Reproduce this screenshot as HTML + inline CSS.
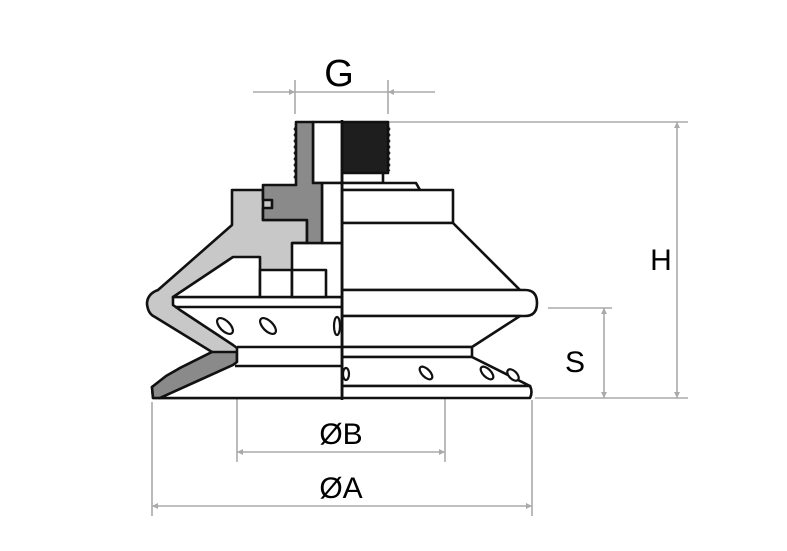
<!DOCTYPE html>
<html><head><style>
html,body{margin:0;padding:0;background:#fff;}
svg{display:block;}
text{font-family:"Liberation Sans",sans-serif;fill:#000;}
</style></head><body>
<svg width="787" height="551" viewBox="0 0 787 551" xmlns="http://www.w3.org/2000/svg">
<defs>
<marker id="a" viewBox="0 0 10 10" refX="10" refY="5" markerWidth="9" markerHeight="6" orient="auto-start-reverse" markerUnits="userSpaceOnUse">
<path d="M0,0 L10,5 L0,10 z" fill="#aaa"/></marker>
</defs>
<g stroke="#aaa" stroke-width="1.6" fill="none">
<line x1="295" y1="80" x2="295" y2="114"/><line x1="388" y1="80" x2="388" y2="114"/>
<line x1="253" y1="92" x2="295" y2="92" marker-end="url(#a)"/>
<line x1="435" y1="92" x2="388" y2="92" marker-end="url(#a)"/>
<line x1="295" y1="92" x2="388" y2="92"/>
<line x1="388" y1="122" x2="688" y2="122"/><line x1="535" y1="398" x2="688" y2="398"/>
<line x1="677" y1="122" x2="677" y2="398" marker-start="url(#a)" marker-end="url(#a)"/>
<line x1="548" y1="308" x2="612" y2="308"/>
<line x1="604" y1="308" x2="604" y2="398" marker-start="url(#a)" marker-end="url(#a)"/>
<line x1="237" y1="360" x2="237" y2="462"/><line x1="445" y1="365" x2="445" y2="462"/>
<line x1="237" y1="452" x2="445" y2="452" marker-start="url(#a)" marker-end="url(#a)"/>
<line x1="152" y1="402" x2="152" y2="516"/><line x1="532" y1="400" x2="532" y2="516"/>
<line x1="152" y1="506" x2="532" y2="506" marker-start="url(#a)" marker-end="url(#a)"/>
</g>
<text x="339" y="86" font-size="38" text-anchor="middle">G</text>
<text x="661" y="270" font-size="30" text-anchor="middle">H</text>
<text x="575" y="372" font-size="30" text-anchor="middle">S</text>
<text x="341" y="444" font-size="30" text-anchor="middle">ØB</text>
<text x="341" y="498" font-size="30" text-anchor="middle">ØA</text>

<g stroke="#111" stroke-width="2.6" stroke-linejoin="round">
<rect x="342" y="122" width="46" height="51" fill="#1e1e1e"/>
<rect x="342" y="173" width="41" height="10" fill="#fff"/>
<path d="M342,183 L416,183 L420,190 L342,190 z" fill="#fff"/>
<rect x="342" y="190" width="111" height="33" fill="#fff"/>
<path d="M342,223 L453,223 L520,290 L342,290 z" fill="#fff"/>
<path d="M342,290 L525,290 Q537,290 537,303 Q537,316 525,316 L342,316 z" fill="#fff"/>
<path d="M342,316 L520,316 L472,347 L342,347 z" fill="#fff"/>
<rect x="342" y="347" width="130" height="10" fill="#fff"/>
<path d="M342,357 L472,357 L530,386 L342,386 z" fill="#fff"/>
<path d="M342,386 L530,386 Q533,392 530,398 L342,398 z" fill="#fff"/>
<!-- left gray silhouette -->
<path d="M232,190 L342,190 L342,398 L153,398 L152,387 L180,368 L212,352 L155,317 Q148,314 147,304 Q147,294 158,290 L232,225 z" fill="#c8c8c8"/>
<!-- dark lower lip -->
<path d="M212,352 L237,352 L237,362 L233,365 L160,398 L153,398 L152,387 L166,376 L180,368 z" fill="#8a8a8a"/>
<!-- white body -->
<path d="M173,297 L342,297 L342,398 L160,398 L233,365 L237,362 L237,348 L233,345 L180,310 L173,305 z" fill="#fff"/>
<line x1="175" y1="307" x2="342" y2="307"/>
<line x1="235" y1="366" x2="342" y2="366"/>
<line x1="237" y1="347" x2="342" y2="347"/>
<path d="M233,257 L260,257 L260,297 L173,297 z" fill="#fff"/>
<rect x="260" y="270" width="32" height="27" fill="#fff"/>
<rect x="292" y="243" width="50" height="54" fill="#fff"/>
<rect x="292" y="270" width="34" height="27" fill="#fff"/>
<rect x="313" y="122" width="29" height="61" fill="#fff"/>
<rect x="322" y="183" width="20" height="60" fill="#fff"/>
<path d="M263,190 L263,220 L307,220 L307,243 L292,243" fill="none"/>
<path d="M296,122 L313,122 L313,183 L322,183 L322,243 L307,243 L307,220 L263,220 L263,208 L272,208 L272,200 L263,200 L263,185 L296,185 z" fill="#8a8a8a"/>
<line x1="342" y1="120" x2="342" y2="400"/>
</g>
<g stroke="#111" stroke-width="1" fill="none">
<path d="M296,126 l-2,3 l2,3 l-2,3 l2,3 l-2,3 l2,3 l-2,3 l2,3 l-2,3 l2,3 l-2,3 l2,3 l-2,3 l2,3 l-2,3 l2,3 l-2,3 l2,3"/>
<path d="M388,126 l2,3 l-2,3 l2,3 l-2,3 l2,3 l-2,3 l2,3 l-2,3 l2,3 l-2,3 l2,3 l-2,3 l2,3 l-2,3 l2,3"/>
</g>
<g stroke="#111" stroke-width="2.2" fill="#fff">
<ellipse cx="225" cy="326" rx="5" ry="10" transform="rotate(-45 225 326)"/>
<ellipse cx="268" cy="326" rx="5" ry="10" transform="rotate(-45 268 326)"/>
<ellipse cx="337" cy="326" rx="3" ry="9"/>
<ellipse cx="346" cy="374" rx="3" ry="6"/>
<ellipse cx="426" cy="373" rx="4" ry="8" transform="rotate(-45 426 373)"/>
<ellipse cx="487" cy="373" rx="4" ry="8" transform="rotate(-45 487 373)"/>
<ellipse cx="513" cy="375" rx="4" ry="7" transform="rotate(-45 513 375)"/>
</g>
</svg>
</body></html>
